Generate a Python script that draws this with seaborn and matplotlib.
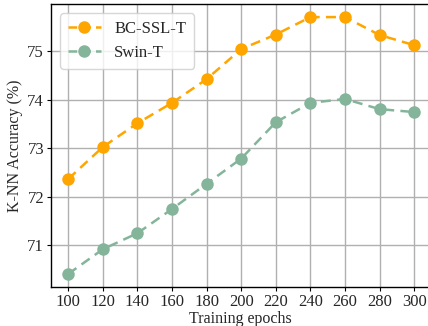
import matplotlib
matplotlib.use("Agg")
import matplotlib.pyplot as plt
import seaborn as sns
import pandas as pd

epochs = [100, 120, 140, 160, 180, 200, 220, 240, 260, 280, 300]
bc_ssl_t = [72.37, 73.03, 73.52, 73.94, 74.43, 75.05, 75.35, 75.71, 75.71, 75.34, 75.13]
swin_t = [70.41, 70.92, 71.25, 71.75, 72.27, 72.79, 73.54, 73.94, 74.02, 73.81, 73.75]
series_names = ["BC-SSL-T", "Swin-T"]
colors = ["#FFA500", "#84B59B"]

sns.set_style("whitegrid")
plt.rcParams["font.family"] = ["Liberation Serif", "DejaVu Serif"]
plt.rcParams["mathtext.fontset"] = "stix"

df = pd.DataFrame({
    "epoch": epochs * 2,
    "acc": bc_ssl_t + swin_t,
    "model": [series_names[0]] * len(epochs) + [series_names[1]] * len(epochs),
})

W, H = 428, 326
fig = plt.figure(figsize=(W / 100, H / 100), dpi=100)
left, right, top, bottom = 51, 430.6, 4, 287
ax = fig.add_axes([left / W, 1 - bottom / H, (right - left) / W, (bottom - top) / H])

sns.lineplot(data=df, x="epoch", y="acc", hue="model", palette=colors,
             marker="o", markersize=9, markeredgewidth=0, linestyle="--",
             linewidth=1.8, ax=ax)
for line in ax.get_lines():
    line.set_dashes([4, 2.5])

ax.set_xlim(90, 309.5)
ax.set_ylim(70.14, 75.98)
ax.set_xticks(epochs)
ax.set_yticks([71, 72, 73, 74, 75])
ax.tick_params(axis="both", labelsize=12, length=3, color="black", pad=2, left=True, bottom=True)
ax.set_xlabel("Training epochs", fontsize=11.5, labelpad=1)
ax.set_ylabel("K-NN Accuracy (%)", fontsize=11.5, labelpad=3)
ax.grid(True, color="#b0b0b0", linewidth=1.0)
for s in ax.spines.values():
    s.set_color("black")
    s.set_linewidth(1.0)

handles, labels = ax.get_legend_handles_labels()
leg = ax.legend(handles, labels, loc="upper left", fontsize=12, frameon=True,
                bbox_to_anchor=(0.0, 1.0), borderaxespad=0.55, handlelength=2.0,
                handletextpad=0.8, borderpad=0.45)
leg.get_frame().set_edgecolor("#cccccc")
for h in leg.get_lines():
    h.set_linestyle("--")
    h.set_dashes([3.5, 2.0])
    h.set_linewidth(1.8)

fig.savefig("out.png", dpi=100)
